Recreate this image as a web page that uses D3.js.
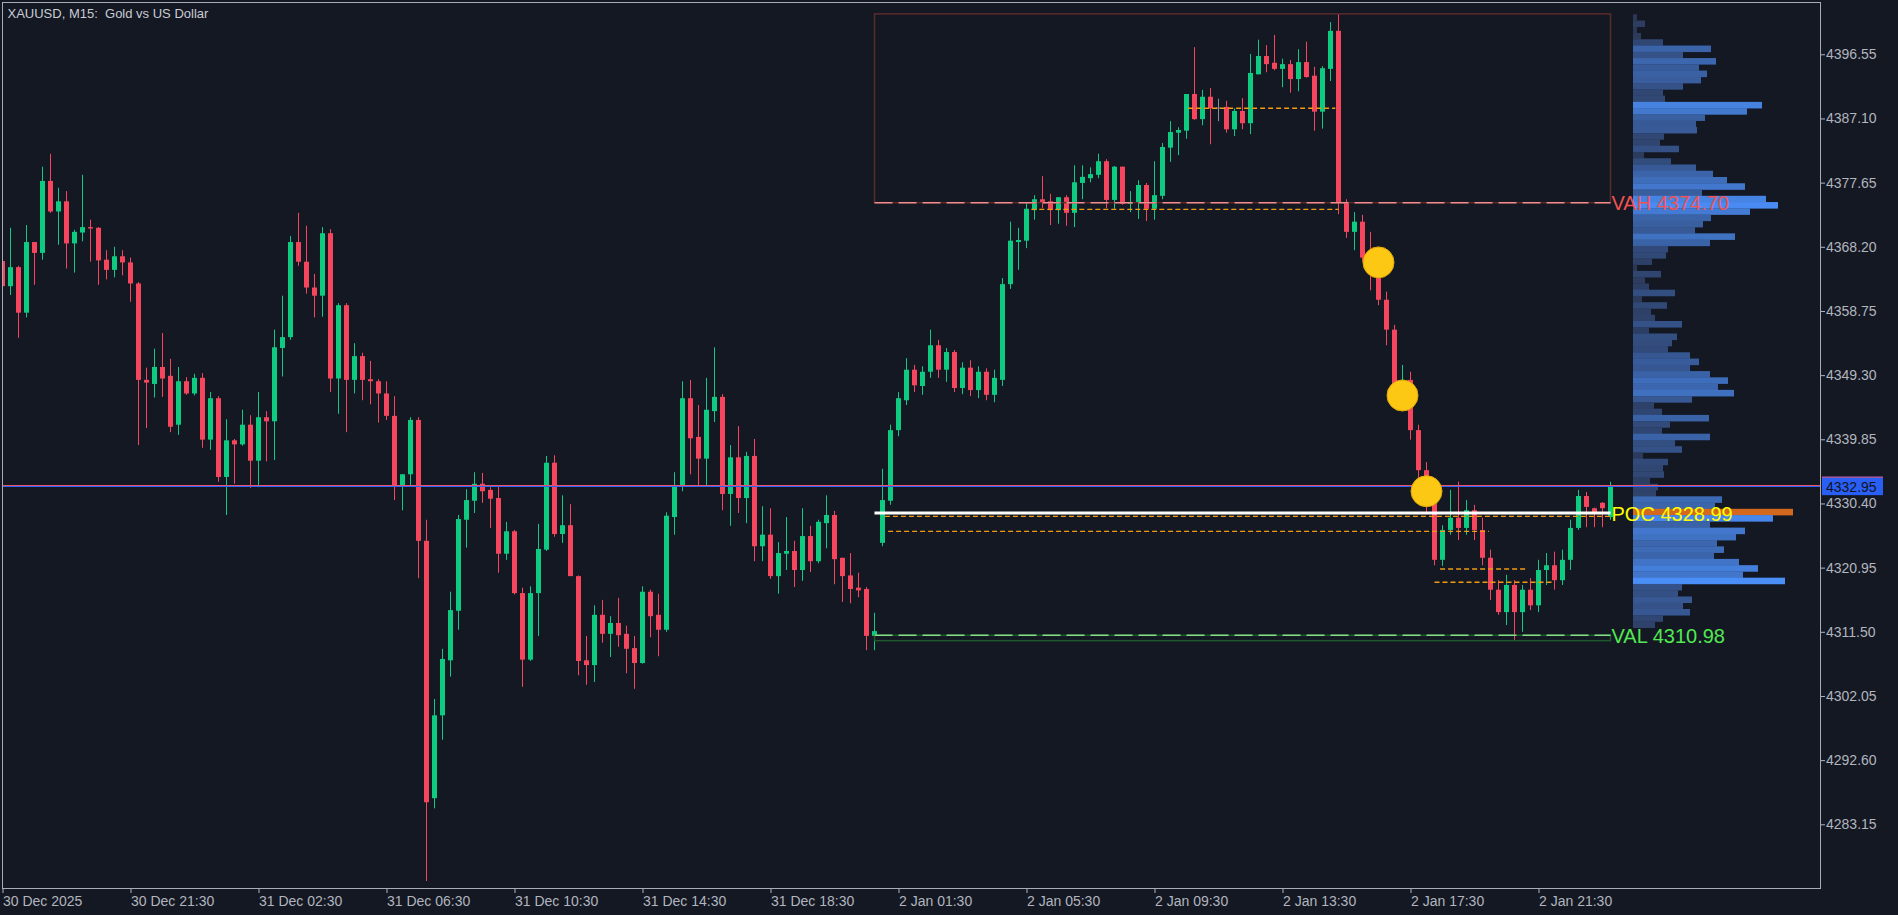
<!DOCTYPE html>
<html>
<head>
<meta charset="utf-8">
<script src="https://cdn.jsdelivr.net/npm/d3@7"></script>
<style>
  body { margin: 0; background: #141823; }
  svg { display: block; }
</style>
</head>
<body>
<svg id="chart"></svg>
<script>
// Chart size
const svgWidth = 1898;
const svgHeight = 915;
const plot = { left: 2, top: 2, right: 1820, bottom: 888 };

// M15 candles, one row per bar: [open, high, low, close]
const candles = [
  [4366.1,4366.6,4362.0,4362.4],[4362.4,4371.0,4361.1,4365.2],[4365.2,4365.4,4354.8,4358.5],[4358.5,4371.4,4357.8,4368.9],
  [4368.9,4368.9,4362.6,4367.3],[4367.3,4380.0,4366.3,4377.9],[4377.9,4381.9,4373.2,4373.4],[4373.4,4376.9,4368.5,4374.9],
  [4374.9,4376.4,4365.0,4368.7],[4368.7,4370.7,4364.4,4370.4],[4370.3,4378.8,4369.0,4371.1],[4371.1,4372.2,4366.0,4370.9],
  [4371.0,4371.1,4362.6,4366.2],[4366.3,4367.7,4363.4,4364.8],[4364.8,4368.2,4363.7,4366.8],[4366.8,4367.7,4364.0,4365.9],
  [4365.9,4366.6,4360.1,4362.8],[4362.8,4363.0,4339.0,4348.6],[4348.6,4350.4,4341.5,4348.2],[4348.0,4353.2,4346.0,4350.5],
  [4350.5,4355.5,4346.1,4348.8],[4349.2,4351.7,4340.9,4341.7],[4342.0,4350.5,4340.5,4348.4],[4348.4,4349.0,4346.4,4346.6],
  [4346.6,4349.5,4346.3,4348.9],[4348.9,4349.6,4338.6,4339.8],[4339.8,4346.8,4338.3,4345.9],[4345.9,4346.2,4333.6,4334.3],
  [4334.3,4342.8,4328.7,4339.7],[4339.7,4339.9,4333.3,4339.1],[4339.1,4344.2,4338.9,4342.0],[4342.0,4343.4,4332.7,4336.7],
  [4336.7,4346.8,4332.8,4343.1],[4343.1,4344.0,4336.6,4342.5],[4342.5,4356.0,4336.8,4353.4],[4353.3,4361.0,4349.1,4354.9],
  [4354.9,4369.8,4354.5,4368.9],[4368.9,4373.2,4365.4,4366.0],[4366.0,4371.3,4361.3,4362.2],[4362.2,4364.2,4357.8,4361.0],
  [4361.0,4371.1,4357.9,4370.2],[4370.2,4370.8,4346.8,4348.8],[4348.8,4359.9,4343.6,4359.6],[4359.6,4359.9,4340.9,4348.6],
  [4348.6,4354.0,4346.6,4352.1],[4352.1,4352.6,4345.6,4348.6],[4348.7,4351.4,4345.0,4348.4],[4348.4,4348.7,4342.3,4346.6],
  [4346.6,4348.4,4342.7,4343.3],[4343.3,4346.2,4330.9,4333.0],[4333.0,4334.7,4329.4,4334.7],[4334.7,4343.1,4333.0,4342.7],
  [4342.7,4343.1,4319.4,4324.9],[4324.9,4328.0,4274.8,4286.4],[4287.0,4301.6,4285.5,4299.2],[4299.2,4309.0,4295.6,4307.5],
  [4307.3,4317.4,4304.9,4314.7],[4314.6,4328.7,4311.8,4328.1],[4328.0,4332.5,4323.9,4330.9],[4330.8,4335.0,4329.0,4333.3],
  [4333.3,4334.9,4330.5,4332.2],[4332.4,4332.8,4326.8,4331.1],[4331.2,4333.0,4320.2,4323.0],[4323.0,4327.7,4322.1,4326.3],
  [4326.3,4326.5,4317.0,4317.2],[4317.2,4318.0,4303.4,4307.4],[4307.4,4318.2,4307.2,4317.2],[4317.2,4327.4,4310.9,4323.7],
  [4323.6,4337.4,4323.4,4336.4],[4336.4,4337.5,4325.5,4325.9],[4325.9,4331.6,4324.6,4327.2],[4327.2,4330.3,4319.7,4319.7],
  [4319.7,4319.8,4305.1,4307.2],[4307.3,4310.9,4303.7,4306.6],[4306.6,4315.4,4304.1,4314.0],[4314.0,4316.2,4309.9,4311.2],
  [4311.2,4313.8,4307.8,4312.8],[4312.8,4316.5,4309.3,4311.0],[4311.2,4312.4,4305.4,4309.0],[4309.1,4310.9,4303.1,4306.9],
  [4306.9,4318.2,4306.8,4317.4],[4317.4,4317.7,4310.7,4313.8],[4314.0,4317.1,4307.9,4311.8],[4311.8,4329.1,4311.5,4328.6],
  [4328.4,4335.0,4325.8,4333.1],[4333.0,4348.4,4332.2,4345.9],[4345.9,4348.6,4334.7,4340.0],[4340.2,4344.9,4333.1,4337.0],
  [4337.0,4348.9,4333.1,4344.2],[4344.0,4353.4,4342.4,4346.1],[4346.1,4346.5,4329.4,4331.8],[4331.8,4339.0,4327.1,4337.2],
  [4337.2,4341.8,4329.0,4331.2],[4331.2,4338.0,4327.5,4337.4],[4337.4,4339.9,4321.9,4324.1],[4324.1,4330.0,4321.9,4325.8],
  [4325.8,4329.7,4319.3,4319.7],[4319.7,4324.7,4317.1,4323.1],[4323.0,4328.4,4320.6,4323.4],[4323.4,4324.9,4318.1,4320.6],
  [4320.6,4329.7,4319.0,4325.6],[4325.6,4327.1,4320.3,4321.9],[4321.9,4328.0,4321.6,4327.7],[4327.5,4331.6,4323.8,4328.7],
  [4328.7,4329.3,4318.5,4322.2],[4322.4,4322.4,4315.9,4319.7],[4319.8,4323.1,4315.7,4317.8],[4318.0,4320.2,4316.6,4317.6],
  [4317.8,4318.1,4308.8,4310.9],[4310.9,4314.3,4308.8,4311.6],[4324.6,4335.5,4324.1,4330.9],[4330.8,4342.0,4330.2,4341.2],
  [4341.2,4346.8,4340.3,4345.9],[4345.6,4351.8,4344.9,4350.1],[4350.1,4350.8,4346.8,4347.8],[4347.7,4350.6,4346.4,4349.8],
  [4349.8,4356.0,4348.9,4353.7],[4353.7,4354.5,4348.9,4350.1],[4350.1,4353.3,4348.3,4352.7],[4352.7,4353.0,4346.8,4347.4],
  [4347.4,4351.2,4346.5,4350.4],[4350.4,4351.5,4346.2,4347.1],[4347.1,4350.6,4345.9,4349.8],[4349.8,4350.3,4345.6,4346.4],
  [4346.4,4350.1,4345.3,4348.9],[4348.6,4363.6,4347.7,4362.7],[4362.7,4371.9,4362.0,4369.1],[4368.9,4371.0,4364.8,4369.2],
  [4369.1,4374.7,4368.0,4373.8],[4373.6,4375.8,4372.2,4375.2],[4375.2,4378.6,4373.9,4374.7],[4374.9,4376.0,4371.4,4373.6],
  [4373.6,4375.5,4371.6,4375.5],[4375.5,4375.8,4371.3,4373.2],[4373.2,4380.2,4371.1,4377.7],[4377.6,4380.2,4375.2,4378.5],
  [4378.3,4379.9,4377.7,4378.9],[4378.8,4381.9,4378.3,4380.8],[4380.8,4381.1,4373.9,4375.1],[4375.1,4380.1,4373.8,4380.0],
  [4380.0,4380.0,4374.4,4374.5],[4374.5,4376.4,4373.3,4374.8],[4374.7,4378.0,4372.3,4377.3],[4377.3,4377.6,4372.0,4373.8],
  [4373.8,4380.8,4372.2,4375.8],[4375.7,4383.5,4375.2,4382.9],[4382.8,4386.7,4380.7,4385.1],[4385.0,4385.8,4381.7,4385.4],
  [4385.3,4390.7,4384.1,4390.7],[4390.7,4397.6,4386.9,4387.0],[4387.0,4391.3,4386.1,4390.3],[4390.3,4391.6,4383.3,4388.6],
  [4388.7,4390.0,4386.7,4388.7],[4388.8,4389.7,4385.0,4385.5],[4385.5,4388.6,4384.5,4388.2],[4388.2,4390.1,4385.5,4386.4],
  [4386.4,4396.6,4384.8,4393.8],[4393.6,4398.7,4393.6,4396.3],[4396.3,4397.9,4393.9,4395.1],[4395.3,4399.4,4394.2,4394.4],
  [4394.4,4395.9,4391.7,4395.1],[4395.1,4395.7,4390.9,4392.9],[4392.9,4397.3,4391.1,4395.4],[4395.4,4398.4,4393.1,4393.2],
  [4393.4,4394.7,4385.3,4388.1],[4388.1,4394.8,4385.6,4394.5],[4394.4,4401.3,4392.6,4400.0],[4400.0,4402.5,4373.0,4374.7],
  [4374.7,4375.2,4369.5,4370.4],[4370.4,4373.3,4367.7,4371.9],[4371.9,4372.9,4366.0,4366.6],[4366.6,4370.4,4361.8,4365.7],
  [4365.7,4367.0,4359.6,4360.4],[4360.4,4361.6,4353.7,4356.0],[4356.0,4356.7,4345.6,4346.8],[4346.8,4350.8,4344.9,4348.6],
  [4348.6,4349.8,4339.8,4341.2],[4341.2,4342.0,4334.1,4335.3],[4335.3,4336.5,4329.1,4330.9],[4330.9,4334.1,4321.3,4322.1],
  [4322.1,4327.2,4321.2,4326.5],[4326.5,4332.4,4325.8,4328.3],[4328.3,4333.6,4325.0,4326.8],[4326.8,4330.9,4325.8,4329.4],
  [4329.4,4330.2,4325.0,4326.5],[4326.5,4328.3,4321.3,4322.4],[4322.4,4323.6,4316.2,4317.7],[4317.7,4319.1,4314.0,4314.4],
  [4314.4,4319.9,4312.5,4318.4],[4318.4,4319.1,4310.3,4314.4],[4314.4,4318.4,4311.5,4317.7],[4317.7,4319.4,4314.7,4315.4],
  [4315.4,4322.1,4314.4,4320.6],[4320.6,4323.1,4318.4,4321.3],[4321.3,4323.3,4317.7,4319.1],[4319.1,4323.6,4318.4,4322.1],
  [4322.1,4328.0,4320.6,4326.8],[4326.8,4332.4,4326.5,4331.5],[4331.5,4332.1,4326.9,4329.9],[4329.7,4329.8,4326.9,4329.1],
  [4330.5,4330.6,4326.9,4329.7],[4328.4,4333.6,4328.0,4332.95]
];

// Time axis: bar index of each label and the label text
const tickBars = [0, 16, 32, 48, 64, 80, 96, 112, 128, 144, 160, 176, 192];
const tickLabels = ["30 Dec 2025", "30 Dec 21:30", "31 Dec 02:30", "31 Dec 06:30", "31 Dec 10:30",
  "31 Dec 14:30", "31 Dec 18:30", "2 Jan 01:30", "2 Jan 05:30", "2 Jan 09:30", "2 Jan 13:30",
  "2 Jan 17:30", "2 Jan 21:30"];

// Price axis
const priceTicks = [4396.55, 4387.10, 4377.65, 4368.20, 4358.75, 4349.30, 4339.85, 4330.40,
  4320.95, 4311.50, 4302.05, 4292.60, 4283.15];
const bidPrice = 4332.95;
const askPrice = 4333.12;

// Volume profile of the 2 Jan session, from the top bin down
const profileTop = 4402.45;
const profileBin = 0.922;
const profileVol = [4, 12, 4, 8, 30, 78, 50, 83, 66, 74, 68, 50, 30, 32,
  129, 114, 72, 63, 64, 31, 27, 46, 11, 38, 63, 80, 94, 112,
  69, 133, 145, 117, 78, 70, 62, 102, 77, 35, 33, 19, 4, 28,
  12, 16, 42, 9, 34, 18, 22, 49, 16, 44, 39, 35, 57, 66,
  57, 77, 95, 85, 101, 59, 21, 29, 76, 37, 29, 77, 42, 49,
  10, 35, 30, 31, 17, 25, 23, 89, 82, 160, 140, 77, 112, 103,
  84, 91, 81, 106, 125, 110, 152, 49, 45, 59, 50, 57, 30, 22];

// Value area of the session
const sessionStartBar = 109;
const sessionEndBar = 201;
const sessionHigh = 4402.5;
const sessionLow = 4310.2;
const vah = 4374.70;
const poc = 4328.99;
const val = 4310.98;

// Orange dashed levels
const levelPrices = [4388.6, 4373.7, 4328.5, 4326.3, 4320.75, 4318.8];
const levelFrom = [148.2, 128.6, 110.3, 110.7, 179.7, 179];
const levelTo = [166.6, 167, 201, 185.8, 190.4, 194];

// Yellow signal dots
const signalBars = [172, 175, 178];
const signalPrices = [4365.9, 4346.3, 4332.2];

// Colours
const bg = '#141823';
const upColor = '#0ecb81';
const downColor = '#f6465d';
const axisColor = '#b2b5be';
const font = '"Liberation Sans", Arial, sans-serif';

//SVG creation
const svg = d3.select('#chart')
  .attr('width', svgWidth)
  .attr('height', svgHeight)
  .style('background', bg);

svg.append('defs').append('clipPath').attr('id', 'plotClip')
  .append('rect')
  .attr('x', plot.left).attr('y', plot.top)
  .attr('width', plot.right - plot.left).attr('height', plot.bottom - plot.top);

//Scales
const x = d3.scaleLinear().domain([0, candles.length - 1]).range([2.5, 2.5 + 8 * (candles.length - 1)]);
const y = d3.scaleLinear().domain([4273.77, 4404.25]).range([plot.bottom, plot.top]);

const g = svg.append('g').attr('clip-path', 'url(#plotClip)');

//Candles
const candle = g.selectAll('.candle')
  .data(candles)
  .enter().append('g')
  .attr('class', 'candle');

const colorOf = d => d[3] > d[0] ? upColor : (d[3] < d[0] ? downColor : '#8c909a');

candle.append('line')
  .attr('x1', (d, i) => x(i)).attr('x2', (d, i) => x(i))
  .attr('y1', d => y(d[1])).attr('y2', d => y(d[2]))
  .attr('stroke', colorOf)
  .attr('stroke-width', 1);

candle.append('rect')
  .attr('x', (d, i) => x(i) - 2.5)
  .attr('width', 5)
  .attr('y', d => y(Math.max(d[0], d[3])))
  .attr('height', d => Math.max(1, Math.abs(y(d[0]) - y(d[3]))))
  .attr('fill', colorOf);

//Volume profile
const profileX = 1633;
const maxVol = d3.max(profileVol);
const pocIndex = profileVol.indexOf(maxVol);
const vx = d3.scaleLinear().domain([0, maxVol]).range([0, 160]);
const shade = d3.interpolateRgb('#2a3552', '#4a8ef7');

g.selectAll('.vp')
  .data(profileVol)
  .enter().append('rect')
  .attr('class', 'vp')
  .attr('x', profileX)
  .attr('y', (d, i) => y(profileTop - i * profileBin))
  .attr('height', (d, i) => y(profileTop - (i + 1) * profileBin) - y(profileTop - i * profileBin) + 0.3)
  .attr('width', d => vx(d))
  .attr('fill', (d, i) => i === pocIndex ? '#d2691e' : shade(Math.min(1, d / 150)));

//Session boxes
const xs = x(sessionStartBar), xe = x(sessionEndBar);

g.append('rect')
  .attr('x', xs).attr('y', y(sessionHigh))
  .attr('width', xe - xs).attr('height', y(vah) - y(sessionHigh))
  .attr('fill', 'none').attr('stroke', '#5a2a2c').attr('stroke-width', 1.5);

g.append('rect')
  .attr('x', xs).attr('y', y(val))
  .attr('width', xe - xs).attr('height', y(sessionLow) - y(val))
  .attr('fill', 'none').attr('stroke', '#1f5a2c').attr('stroke-width', 1.5);

//Orange levels
g.selectAll('.lvl')
  .data(levelPrices)
  .enter().append('line')
  .attr('class', 'lvl')
  .attr('x1', (d, i) => x(levelFrom[i])).attr('x2', (d, i) => x(levelTo[i]))
  .attr('y1', d => y(d)).attr('y2', d => y(d))
  .attr('stroke', '#f29a12').attr('stroke-width', 1.3)
  .attr('stroke-dasharray', '5,3');

//Value area lines
g.append('line')
  .attr('x1', xs).attr('x2', xe).attr('y1', y(poc)).attr('y2', y(poc))
  .attr('stroke', '#ffffff').attr('stroke-width', 3);

g.append('line')
  .attr('x1', xs).attr('x2', xe).attr('y1', y(vah)).attr('y2', y(vah))
  .attr('stroke', '#f08c8c').attr('stroke-width', 1.5).attr('stroke-dasharray', '18,6');

g.append('line')
  .attr('x1', xs).attr('x2', xe).attr('y1', y(val)).attr('y2', y(val))
  .attr('stroke', '#86de86').attr('stroke-width', 1.5).attr('stroke-dasharray', '18,6');

//Price lines
g.append('line')
  .attr('x1', plot.left).attr('x2', plot.right)
  .attr('y1', Math.round(y(askPrice)) + 0.5).attr('y2', Math.round(y(askPrice)) + 0.5)
  .attr('stroke', '#e8536a').attr('stroke-width', 1);

g.append('line')
  .attr('x1', plot.left).attr('x2', plot.right)
  .attr('y1', Math.round(y(bidPrice)) + 0.5).attr('y2', Math.round(y(bidPrice)) + 0.5)
  .attr('stroke', '#2f62ff').attr('stroke-width', 1);

//Signal dots
g.selectAll('.sig')
  .data(signalBars)
  .enter().append('circle')
  .attr('class', 'sig')
  .attr('cx', d => x(d))
  .attr('cy', (d, i) => y(signalPrices[i]))
  .attr('r', 15.5)
  .attr('fill', '#fcc814')
  .attr('stroke', '#e2a90a')
  .attr('stroke-width', 1);

//Value area labels
const vaLabels = [
  { text: 'VAH ' + vah.toFixed(2), price: vah, color: '#f25252' },
  { text: 'POC ' + poc.toFixed(2), price: poc, color: '#ffff00' },
  { text: 'VAL ' + val.toFixed(2), price: val, color: '#52e852' }
];

svg.selectAll('.va-label')
  .data(vaLabels)
  .enter().append('text')
  .attr('class', 'va-label')
  .attr('x', xe + 1)
  .attr('y', d => y(d.price) + 7.5)
  .style('font-family', font)
  .style('font-size', '20px')
  .style('fill', d => d.color)
  .text(d => d.text);

//Title
svg.append('text')
  .attr('x', 7.5)
  .attr('y', 18)
  .style('font-family', font)
  .style('font-size', '13px')
  .style('fill', '#c9ccd3')
  .style('white-space', 'pre')
  .text('XAUUSD, M15:  Gold vs US Dollar');

//Axes
const yAxis = d3.axisRight(y)
  .tickValues(priceTicks)
  .tickSize(5)
  .tickFormat(d3.format('.2f'));

const yAxisG = svg.append('g')
  .attr('transform', 'translate(' + plot.right + ',0)')
  .call(yAxis);

const xAxis = d3.axisBottom(x)
  .tickValues(tickBars)
  .tickSize(5)
  .tickFormat((d, i) => tickLabels[i]);

const xAxisG = svg.append('g')
  .attr('transform', 'translate(0,' + plot.bottom + ')')
  .call(xAxis);

svg.selectAll('.domain').remove();
[yAxisG, xAxisG].forEach(a => {
  a.selectAll('line').attr('stroke', axisColor);
  a.selectAll('text')
    .style('font-family', font)
    .style('font-size', '14px')
    .style('fill', axisColor);
});
yAxisG.selectAll('text').attr('x', 6);
xAxisG.selectAll('text').attr('text-anchor', 'start').attr('x', 0).attr('y', 8).attr('dy', '0.71em');

//Current price label
const tagY = y(bidPrice);
svg.append('rect')
  .attr('x', plot.right + 2).attr('y', tagY - 9.5)
  .attr('width', 61).attr('height', 18.5)
  .attr('fill', '#2a5ff5');
svg.append('line')
  .attr('x1', plot.right + 2).attr('x2', plot.right + 63)
  .attr('y1', tagY - 9).attr('y2', tagY - 9)
  .attr('stroke', '#e8536a').attr('stroke-width', 1);
svg.append('text')
  .attr('x', plot.right + 6)
  .attr('y', tagY + 5.5)
  .style('font-family', font)
  .style('font-size', '14px')
  .style('fill', '#10131c')
  .text(bidPrice.toFixed(2));

//Plot border
svg.append('rect')
  .attr('x', plot.left + 0.5).attr('y', plot.top + 0.5)
  .attr('width', plot.right - plot.left).attr('height', plot.bottom - plot.top)
  .attr('fill', 'none')
  .attr('stroke', '#a9acb4')
  .attr('stroke-width', 1);
</script>
</body>
</html>
